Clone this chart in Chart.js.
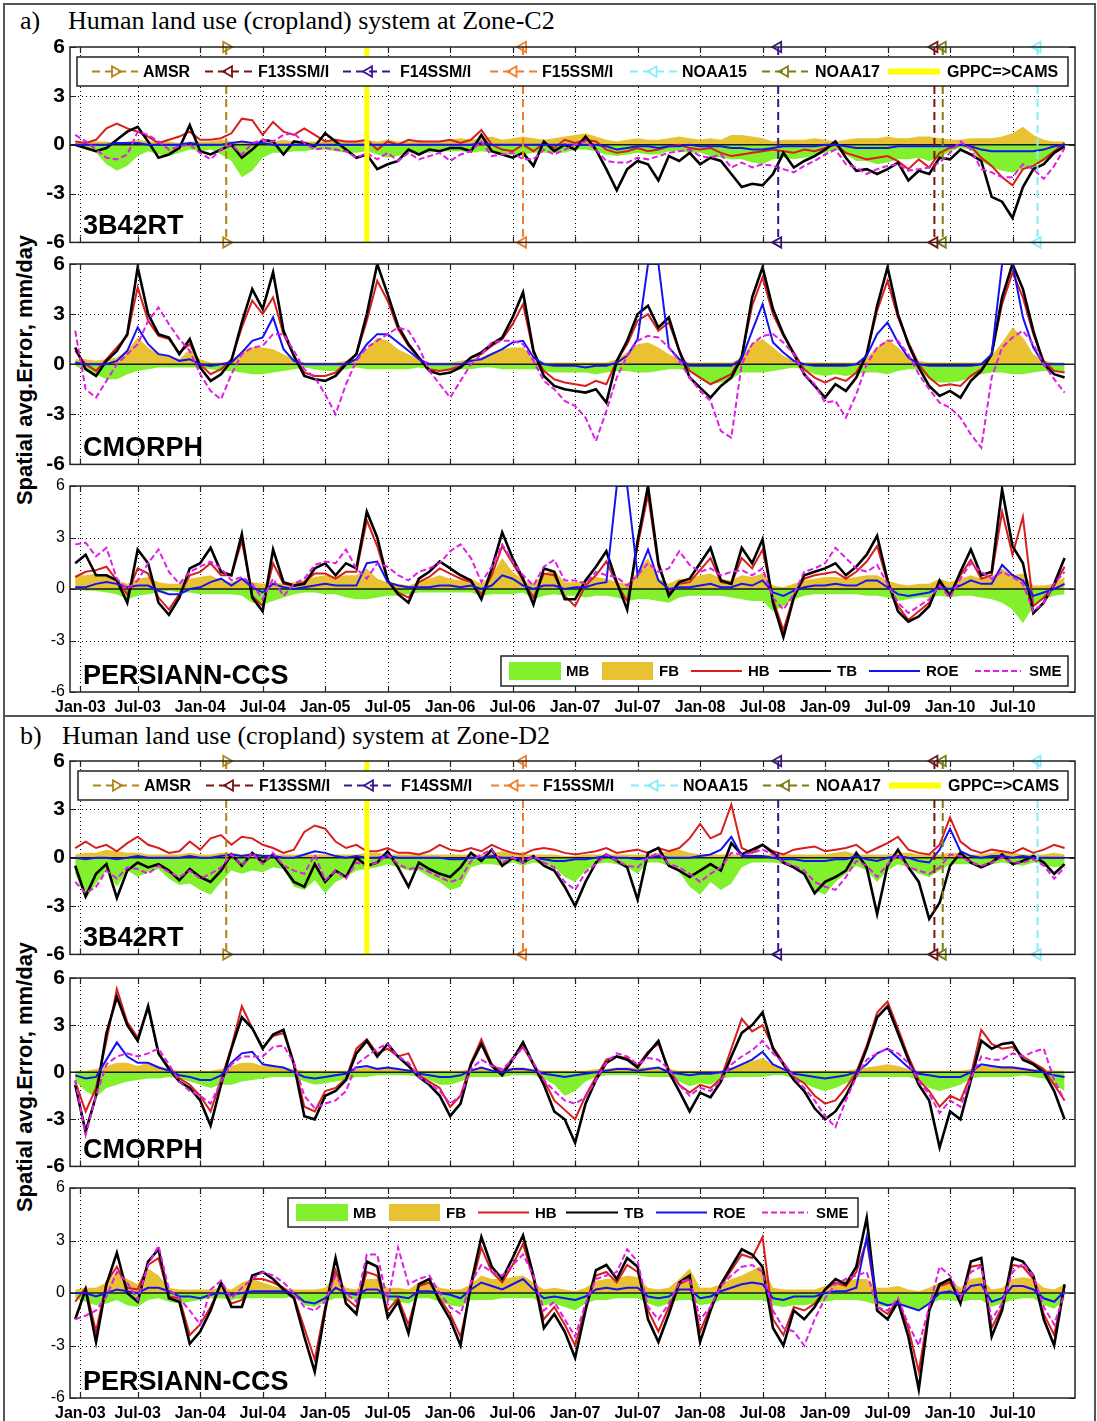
<!DOCTYPE html>
<html>
<head>
<meta charset="utf-8">
<script src="https://cdn.jsdelivr.net/npm/chart.js@4.4.1/dist/chart.umd.min.js"></script>
<style>
  body { margin: 0; background: #fff; width: 1097px; height: 1421px; position: relative; overflow: hidden; }
  canvas { position: absolute; left: 0; }
  .frame { position: absolute; border: 2px solid #555; box-sizing: border-box; }
  .title { position: absolute; font-family: "Liberation Serif", "Times New Roman", serif; font-size: 26px; line-height: 26px; white-space: nowrap; color: #000; }
  .ylab { position: absolute; font-family: "Liberation Sans", Arial, sans-serif; font-weight: bold; font-size: 22px; white-space: nowrap; transform: translate(-50%, -50%) rotate(-90deg); color: #000; }
</style>
</head>
<body>
<div class="frame" style="left:3px;top:3px;width:1093px;height:714px"></div>
<div class="frame" style="left:3px;top:715px;width:1093px;height:720px"></div>
<div class="title" style="left:20px;top:8px">a)</div>
<div class="title" style="left:68px;top:8px">Human land use (cropland) system at Zone-C2</div>
<div class="title" style="left:20px;top:723px">b)</div>
<div class="title" style="left:62px;top:723px">Human land use (cropland) system at Zone-D2</div>
<div class="ylab" style="left:25px;top:370px">Spatial avg.Error, mm/day</div>
<div class="ylab" style="left:25px;top:1077px">Spatial avg.Error, mm/day</div>

<script>
// months since Jan-2003, one value per month (index 0 = Jan-03)
const tickMonths = [0.5, 6, 12, 18, 24, 30, 36, 42, 48, 54, 60, 66, 72, 78, 84, 90];
const tickLabels = ["Jan-03","Jul-03","Jan-04","Jul-04","Jan-05","Jul-05","Jan-06","Jul-06",
                    "Jan-07","Jul-07","Jan-08","Jul-08","Jan-09","Jul-09","Jan-10","Jul-10"];
const yTicks = [-6, -3, 0, 3, 6];
const seriesNames = ["MB", "FB", "HB", "TB", "ROE", "SME"];

// sensor change events (month index)
const eventNames = ["AMSR", "F13SSM/I", "F14SSM/I", "F15SSM/I", "NOAA15", "NOAA17", "GPPC=>CAMS"];
const eventMonths = [14.5, 82.5, 67.5, 43.0, 92.4, 83.3, 28.0];

// ---- Zone-C2, 3B42RT ----
const c2RtMB = [-0.1,-0.3,-0.5,-1.2,-1.6,-1.3,-0.7,-0.4,-0.6,-0.7,-0.5,-0.3,
  -0.4,-0.3,-0.6,-1.0,-2.0,-1.6,-0.8,-0.5,-0.5,-0.4,-0.4,-0.3,
  -0.3,-0.4,-0.5,-0.5,-0.4,-0.6,-0.8,-0.7,-0.5,-0.5,-0.5,-0.4,
  -0.4,-0.4,-0.5,-0.4,-0.5,-0.6,-0.6,-0.6,-0.5,-0.5,-0.5,-0.5,
  -0.3,-0.3,-0.4,-0.6,-0.7,-0.6,-0.5,-0.6,-0.6,-0.4,-0.4,-0.5,
  -0.5,-0.7,-0.8,-0.9,-0.9,-1.1,-1.2,-0.9,-0.8,-0.9,-0.8,-0.7,
  -0.5,-0.3,-0.6,-1.0,-1.0,-1.2,-1.1,-0.9,-0.9,-0.8,-1.0,-0.8,
  -0.4,-0.2,-0.3,-1.0,-1.4,-1.6,-1.7,-1.5,-1.4,-1.0,-0.5,-0.2];
const c2RtFB = [0.1,0.2,0.2,0.2,0.1,0.2,0.3,0.2,0.2,0.2,0.1,0.2,
  0.2,0.2,0.3,0.2,0.1,0.2,0.2,0.2,0.3,0.2,0.2,0.2,
  0.2,0.3,0.2,0.2,0.3,0.2,0.3,0.2,0.2,0.3,0.2,0.2,
  0.3,0.4,0.3,0.4,0.5,0.3,0.4,0.5,0.4,0.3,0.4,0.5,
  0.6,0.7,0.5,0.3,0.2,0.3,0.4,0.3,0.3,0.4,0.5,0.4,
  0.3,0.4,0.3,0.6,0.6,0.5,0.4,0.2,0.3,0.3,0.3,0.4,
  0.3,0.2,0.3,0.4,0.4,0.4,0.5,0.4,0.4,0.5,0.5,0.4,
  0.3,0.3,0.4,0.4,0.4,0.5,0.7,1.1,0.6,0.3,0.2,0.2];
const c2RtHB = [0.2,0.1,0.3,1.0,1.3,1.0,0.8,0.5,0.1,0.3,0.5,0.8,
  0.3,0.3,0.4,0.7,1.6,1.5,0.6,1.4,0.8,0.6,1.0,0.6,
  0.2,0.3,0.2,0.2,0.3,-0.3,0.2,0.0,0.3,0.2,0.2,0.2,
  0.3,0.1,0.3,0.9,0.0,-0.3,-0.4,0.0,-0.4,0.1,-0.2,0.3,
  0.1,0.3,0.2,-0.3,-0.5,-0.4,-0.2,-0.4,-0.3,-0.1,0.0,-0.2,
  -0.3,-0.2,-0.5,-0.7,-0.6,-0.5,-0.4,-0.3,-0.4,-0.5,-0.3,-0.4,
  -0.2,0.0,-0.5,-0.7,-0.9,-0.8,-0.7,-1.0,-1.5,-0.9,-1.4,-0.5,
  -0.2,0.0,-0.1,-0.8,-1.3,-2.0,-2.5,-1.5,-1.3,-0.9,-0.4,0.1];
const c2RtTB = [0.0,-0.2,-0.4,-0.2,0.3,0.8,1.1,0.2,-0.8,-0.6,-0.2,1.2,
  -0.4,-0.6,-0.3,0.0,-0.8,-0.3,0.3,0.2,-0.6,0.2,0.1,-0.1,
  0.7,0.2,-0.3,-0.8,-0.6,-1.5,-1.2,-1.0,-0.3,-0.6,-0.3,-0.4,
  -0.2,-0.2,-0.4,0.6,-0.4,-0.6,-0.8,-0.5,-1.3,0.2,-0.4,0.0,
  -0.3,0.5,-0.3,-1.5,-2.8,-1.5,-1.0,-1.2,-2.2,-0.7,-1.0,-0.5,
  -1.2,-0.8,-1.0,-1.8,-2.6,-2.4,-2.5,-1.8,-0.5,-1.4,-1.0,-0.7,
  -0.3,0.2,-0.8,-1.6,-1.5,-1.8,-1.5,-1.1,-2.2,-1.6,-1.8,-0.8,
  -0.9,-0.3,-0.6,-1.0,-3.2,-3.5,-4.5,-2.6,-1.5,-1.2,-0.5,-0.1];
const c2RtROE = [0.0,0.0,0.0,0.0,0.1,0.1,0.1,0.0,0.0,0.0,0.0,0.1,
  0.0,0.0,0.0,0.1,0.2,0.1,0.1,0.0,0.0,0.0,0.0,0.0,
  0.0,0.0,0.0,0.0,0.0,0.0,0.0,0.0,0.0,0.0,0.0,0.0,
  0.0,0.0,0.0,0.1,0.0,0.0,0.0,0.0,0.0,0.0,0.0,0.0,
  0.0,0.0,0.0,-0.1,-0.3,-0.2,-0.1,-0.1,-0.2,-0.1,-0.1,0.0,
  -0.1,-0.1,-0.1,-0.2,-0.2,-0.3,-0.3,-0.2,-0.1,-0.1,-0.1,-0.1,
  0.0,0.0,-0.1,-0.2,-0.2,-0.2,-0.2,-0.1,-0.1,-0.1,-0.1,-0.1,
  -0.1,0.0,-0.1,-0.3,-0.4,-0.4,-0.4,-0.4,-0.4,-0.3,-0.1,0.0];
const c2RtSME = [0.6,0.2,-0.3,-0.8,-0.9,-0.6,0.8,0.6,0.2,-0.3,-0.1,0.0,
  -0.5,-0.9,-0.3,0.0,-0.6,0.1,0.3,0.2,0.6,0.7,0.1,-0.3,
  -0.2,-0.3,-0.4,-0.8,-0.5,-0.9,-0.5,-1.0,-0.5,-0.9,-0.7,-0.5,
  -1.0,-0.6,-0.4,0.2,-0.7,-0.6,-0.5,-0.9,-0.9,-0.3,-0.6,-0.3,
  0.0,0.2,-0.3,-1.0,-1.1,-1.1,-0.8,-0.9,-0.7,-0.5,-0.4,-0.3,
  -0.7,-0.8,-0.6,-1.4,-1.1,-1.4,-1.2,-1.3,-1.5,-1.7,-1.3,-1.0,
  -0.6,-0.3,-1.2,-1.4,-1.8,-1.5,-1.3,-1.2,-1.6,-1.5,-1.4,-1.1,
  -0.5,0.2,-0.3,-1.5,-1.7,-2.0,-2.0,-1.2,-1.5,-2.1,-1.3,-0.2];

// ---- Zone-C2, CMORPH ----
const c2CmMB = [-0.1,-0.4,-0.6,-0.9,-0.9,-0.6,-0.4,-0.3,-0.2,-0.2,-0.2,-0.2,
  -0.2,-0.3,-0.4,-0.4,-0.5,-0.6,-0.6,-0.5,-0.4,-0.3,-0.2,-0.3,
  -0.4,-0.4,-0.3,-0.2,-0.3,-0.3,-0.3,-0.3,-0.3,-0.2,-0.3,-0.4,
  -0.4,-0.3,-0.3,-0.2,-0.2,-0.3,-0.3,-0.3,-0.3,-0.4,-0.5,-0.5,
  -0.5,-0.5,-0.6,-0.5,-0.4,-0.4,-0.5,-0.5,-0.4,-0.3,-0.3,-0.4,
  -0.9,-1.2,-1.1,-0.9,-0.5,-0.5,-0.5,-0.4,-0.3,-0.2,-0.3,-0.6,
  -0.7,-0.6,-0.7,-0.6,-0.5,-0.5,-0.6,-0.4,-0.3,-0.3,-0.9,-1.1,
  -1.1,-1.0,-0.8,-0.6,-0.5,-0.5,-0.6,-0.6,-0.5,-0.4,-0.4,-0.5];
const c2CmFB = [0.3,0.3,0.2,0.3,0.4,0.8,1.6,1.0,0.6,0.5,0.3,0.9,
  0.3,0.1,0.1,0.2,0.8,1.0,1.0,0.9,0.6,0.3,0.1,0.1,
  0.1,0.1,0.2,0.3,0.9,1.6,1.4,0.9,0.6,0.3,0.1,0.1,
  0.1,0.2,0.3,0.4,0.7,0.9,1.0,1.0,0.3,0.1,0.1,0.1,
  0.1,0.1,0.1,0.1,0.3,0.7,1.2,1.3,1.0,0.6,0.3,0.1,
  0.1,0.1,0.1,0.1,0.4,1.3,1.5,1.0,0.5,0.2,0.1,0.1,
  0.1,0.1,0.1,0.1,0.4,1.0,1.5,1.0,0.4,0.2,0.1,0.1,
  0.1,0.1,0.1,0.1,0.5,1.3,2.2,1.6,0.6,0.2,0.1,0.1];
const c2CmHB = [0.8,0.0,-0.4,0.3,1.0,1.7,4.6,2.6,1.7,1.5,0.7,1.2,
  0.0,-0.6,-0.3,0.3,2.2,3.8,3.0,4.0,1.8,0.5,-0.5,-0.7,
  -0.7,-0.5,0.1,0.6,2.6,5.0,3.8,2.1,1.1,0.4,-0.3,-0.4,
  -0.3,-0.1,0.4,0.6,1.1,1.5,2.4,3.6,0.7,-0.4,-0.9,-1.1,
  -1.2,-1.3,-1.0,-1.2,0.2,1.2,2.6,3.0,2.0,2.5,0.8,-0.4,
  -0.8,-1.2,-0.9,-0.6,0.5,3.5,5.2,3.0,1.7,0.7,-0.3,-0.8,
  -1.1,-0.8,-1.0,-0.5,0.6,3.2,5.0,2.8,1.3,0.0,-0.8,-1.3,
  -1.2,-1.3,-0.7,-0.3,0.6,3.6,5.5,4.0,1.8,0.2,-0.4,-0.5];
const c2CmTB = [1.0,-0.3,-0.7,0.2,0.8,1.8,5.8,3.0,1.8,1.6,0.6,1.5,
  -0.2,-1.0,-0.6,0.2,2.5,4.5,3.3,5.5,2.0,0.5,-0.7,-0.9,
  -1.0,-0.7,0.0,0.6,3.0,6.0,4.2,2.3,1.2,0.4,-0.4,-0.6,
  -0.5,-0.2,0.4,0.7,1.2,1.6,2.8,4.3,0.8,-0.7,-1.3,-1.5,
  -1.6,-1.7,-1.5,-2.3,0.2,1.4,3.0,3.5,2.2,2.8,0.8,-0.8,
  -1.4,-2.0,-1.3,-0.8,0.4,4.0,5.8,3.3,1.8,0.6,-0.6,-1.3,
  -2.0,-1.2,-1.6,-0.8,0.6,3.5,5.8,3.0,1.2,-0.2,-1.3,-1.9,
  -1.6,-2.0,-1.0,-0.4,0.6,4.0,6.0,4.5,2.0,0.0,-0.6,-0.8];
const c2CmROE = [0.1,0.0,0.0,0.0,0.2,0.8,2.2,1.2,0.6,0.5,0.2,0.3,
  0.0,-0.1,0.0,0.1,0.7,1.4,1.6,2.8,0.9,0.2,0.0,0.0,
  0.0,0.0,0.0,0.3,1.2,1.8,1.8,1.3,0.8,0.3,0.0,0.0,
  0.0,0.0,0.2,0.3,0.6,0.9,1.3,1.4,0.4,0.0,-0.1,-0.1,
  -0.1,-0.2,-0.1,-0.1,0.1,0.5,1.5,6.0,6.0,1.0,0.3,-0.1,
  -0.1,-0.1,-0.1,-0.1,0.3,2.0,3.6,1.3,0.7,0.2,0.0,-0.1,
  -0.1,-0.1,-0.1,0.0,0.5,1.8,2.5,1.3,0.4,0.0,-0.1,-0.1,
  -0.1,-0.1,-0.1,0.0,0.6,6.0,6.0,2.8,1.0,0.0,0.0,0.0];
const c2CmSME = [2.0,-1.5,-2.0,-1.0,0.0,0.6,1.2,2.6,3.4,2.4,1.5,0.8,
  -0.6,-1.6,-2.1,-0.6,0.6,1.0,1.1,1.8,1.8,0.8,-0.3,-0.8,
  -1.8,-3.0,-1.2,0.2,1.0,1.4,1.8,2.2,2.0,1.0,-0.4,-1.2,
  -2.0,-1.0,0.0,0.6,1.3,1.4,1.4,1.2,0.2,-1.0,-1.5,-2.2,
  -2.5,-3.2,-4.6,-2.8,-0.8,0.5,1.4,1.7,1.6,1.0,0.2,-0.8,
  -1.6,-2.2,-4.0,-4.4,0.0,1.2,1.7,1.8,1.3,0.6,-0.6,-1.2,
  -2.3,-2.2,-3.2,-1.8,0.0,1.0,1.4,1.4,0.6,-0.6,-1.5,-2.3,
  -2.6,-3.2,-4.2,-5.0,-0.8,1.0,1.6,2.0,1.2,0.0,-0.9,-1.7];

// ---- Zone-C2, PERSIANN-CCS ----
const c2CcsMB = [0.0,-0.1,-0.1,-0.2,-0.3,-0.6,-0.4,-0.3,-0.2,-0.1,-0.2,-0.2,
  -0.3,-0.3,-0.3,-0.3,-0.4,-0.8,-0.9,-0.7,-0.5,-0.3,-0.2,-0.2,
  -0.3,-0.3,-0.5,-0.6,-0.6,-0.5,-0.4,-0.4,-0.3,-0.2,-0.2,-0.2,
  -0.2,-0.2,-0.2,-0.4,-0.3,-0.3,-0.3,-0.2,-0.6,-0.4,-0.3,-0.4,
  -0.4,-0.5,-0.4,-0.4,-0.5,-0.7,-0.6,-0.6,-0.7,-0.8,-0.5,-0.4,
  -0.4,-0.4,-0.4,-0.5,-0.6,-0.7,-0.7,-1.3,-1.0,-0.6,-0.4,-0.3,
  -0.3,-0.3,-0.3,-0.3,-0.4,-0.4,-0.5,-0.7,-0.6,-0.5,-0.5,-0.4,
  -0.5,-0.4,-0.4,-0.5,-0.6,-0.8,-1.2,-2.0,-1.0,-0.6,-0.4,-0.3];
const c2CcsFB = [0.8,0.8,0.9,0.8,0.5,0.3,0.6,0.7,0.4,0.3,0.3,0.6,
  0.7,0.8,0.5,0.4,0.6,0.4,0.3,0.4,0.3,0.4,0.5,0.7,
  0.8,0.7,0.8,0.8,1.2,0.6,0.4,0.3,0.2,0.4,0.6,0.8,
  0.6,0.5,0.6,0.3,0.8,1.8,1.0,0.5,0.3,0.9,1.1,0.4,
  0.4,0.5,0.7,0.6,0.4,0.3,1.0,1.8,0.6,0.3,0.6,0.6,
  0.8,0.9,0.6,0.5,0.8,0.7,0.9,0.2,0.1,0.3,0.5,0.6,
  0.7,0.7,0.6,0.7,0.8,0.8,0.5,0.3,0.2,0.3,0.3,0.6,
  0.4,0.6,0.8,0.6,0.7,1.2,0.8,0.9,0.2,0.2,0.3,0.7];
const c2CcsHB = [0.7,1.0,1.1,1.3,0.5,-0.3,1.2,0.9,-0.5,-1.2,-0.3,0.8,
  1.0,1.5,0.8,0.8,2.8,-0.4,-1.0,1.5,0.3,0.2,0.4,0.9,
  0.9,0.6,1.0,1.0,4.0,2.5,0.5,-0.2,-0.5,0.4,0.7,1.2,
  0.9,0.6,0.4,-0.3,0.8,2.5,1.5,0.5,-0.5,0.9,0.8,-0.4,
  -1.0,0.2,0.8,1.6,0.3,-0.7,2.5,5.5,1.3,-0.2,0.3,0.4,
  1.1,1.8,0.4,0.3,1.8,1.2,2.3,-0.6,-2.4,-0.4,0.6,0.8,
  0.9,1.0,0.6,1.0,1.6,2.5,0.4,-1.0,-1.8,-1.3,-0.8,0.3,
  -0.3,0.8,1.7,0.6,0.8,4.5,2.0,4.2,-1.0,-0.5,0.2,1.3];
const c2CcsTB = [1.5,2.0,0.8,0.8,0.5,-0.8,2.3,1.5,-0.8,-1.5,-0.5,1.2,
  1.5,2.4,1.0,0.8,3.2,-0.5,-1.3,2.3,0.4,0.2,0.3,1.2,
  1.5,0.8,1.5,1.2,4.5,3.0,0.5,-0.3,-0.8,0.6,1.0,1.6,
  1.2,0.8,0.5,-0.6,1.2,3.3,1.8,0.6,-0.9,1.2,1.0,-0.6,
  -0.6,0.5,1.3,2.2,0.4,-1.2,2.8,6.0,1.5,-0.4,0.4,0.6,
  1.5,2.4,0.5,0.3,2.4,1.5,2.9,-0.8,-2.8,-0.5,0.8,1.0,
  1.2,1.5,0.8,1.3,2.0,3.1,0.5,-1.3,-1.9,-1.6,-1.0,0.5,
  -0.4,1.0,2.3,0.8,1.0,5.8,2.5,1.5,-1.4,-0.8,0.3,1.8];
const c2CcsROE = [0.1,0.1,0.3,0.4,0.3,0.1,0.2,0.2,-0.1,-0.3,-0.3,0.0,
  0.1,0.4,0.6,0.2,0.6,0.1,-0.2,0.3,0.1,0.0,0.1,0.2,
  0.3,0.2,0.2,0.2,1.5,1.6,0.4,0.2,0.1,0.1,0.1,0.2,
  0.2,0.1,0.2,0.0,0.2,0.8,0.6,0.2,0.0,0.2,0.2,0.0,
  0.1,0.1,0.3,0.4,6.0,6.0,0.8,2.3,0.5,0.0,0.1,0.1,
  0.2,0.3,0.1,0.1,0.3,0.2,0.5,-0.2,-0.4,-0.1,0.1,0.2,
  0.2,0.3,0.2,0.2,0.5,0.5,0.1,-0.3,-0.4,-0.3,-0.2,0.1,
  0.0,0.2,0.5,0.3,0.3,1.4,0.8,0.5,-0.4,-0.2,0.0,0.3];
const c2CcsSME = [2.6,2.7,1.9,2.4,0.6,0.0,0.5,1.5,2.3,1.0,0.3,1.0,
  1.3,1.6,1.2,0.5,0.7,0.3,-0.6,0.6,-0.4,0.3,0.6,1.4,
  1.6,1.5,2.3,1.2,0.6,1.5,1.3,0.8,0.5,1.0,1.2,1.5,
  2.2,2.6,1.8,0.4,1.3,2.6,1.6,0.8,0.2,1.3,1.7,0.5,
  0.5,0.3,1.0,0.8,0.7,0.2,0.8,1.5,1.0,1.2,2.2,1.4,
  1.0,1.2,0.8,1.0,1.1,0.8,1.2,-0.5,-1.2,-0.3,1.0,1.2,
  1.5,2.4,1.8,1.2,1.0,1.4,0.3,-0.8,-1.4,-1.0,-0.6,0.2,
  -0.5,0.6,1.5,1.0,0.6,1.0,0.7,0.3,-1.3,-0.8,0.3,1.0];

// ---- Zone-D2, 3B42RT ----
const d2RtMB = [-1.0,-2.6,-1.6,-0.8,-1.8,-0.8,-1.2,-0.9,-0.7,-1.3,-1.7,-1.6,
  -2.0,-2.3,-1.5,-0.8,-1.0,-0.8,-0.9,-0.6,-0.7,-1.8,-2.0,-1.4,
  -2.2,-1.5,-1.2,-0.8,-0.7,-0.6,-0.4,-0.6,-0.8,-0.8,-1.2,-1.5,
  -2.0,-1.8,-0.6,-0.4,-0.4,-0.5,-0.3,-0.5,-0.3,-0.4,-0.6,-1.2,
  -1.5,-0.8,-0.4,-0.3,-0.4,-0.6,-1.0,-0.3,-0.3,-0.5,-0.9,-1.8,
  -2.3,-1.5,-2.0,-1.6,-0.6,-0.3,-0.3,-0.3,-0.4,-0.6,-1.0,-2.0,
  -2.3,-1.5,-1.0,-0.5,-0.8,-1.5,-0.8,-0.4,-0.6,-1.0,-1.2,-0.8,
  -0.4,-0.4,-0.4,-0.5,-0.4,-0.3,-0.4,-0.5,-0.3,-0.4,-0.6,-0.5];
const d2RtFB = [0.2,0.3,0.3,0.5,0.4,0.3,0.3,0.2,0.2,0.2,0.2,0.3,
  0.2,0.2,0.3,0.3,0.2,0.3,0.2,0.2,0.2,0.2,0.2,0.2,
  0.2,0.2,0.2,0.2,0.3,0.3,0.2,0.2,0.2,0.2,0.2,0.2,
  0.2,0.2,0.2,0.2,0.3,0.4,0.3,0.2,0.2,0.2,0.2,0.1,
  0.1,0.2,0.2,0.2,0.2,0.2,0.2,0.2,0.3,0.4,0.5,0.3,
  0.2,0.2,0.2,0.2,0.2,0.2,0.2,0.2,0.2,0.2,0.2,0.2,
  0.2,0.3,0.4,0.2,0.2,0.2,0.2,0.3,0.3,0.2,0.2,0.2,
  0.3,0.3,0.2,0.2,0.3,0.4,0.3,0.2,0.2,0.2,0.3,0.2];
const d2RtHB = [0.6,1.0,0.6,0.8,0.4,0.9,1.3,0.8,0.6,0.3,0.4,1.0,
  0.5,1.2,1.4,0.8,1.3,1.2,0.8,0.6,0.3,0.5,1.6,2.0,
  1.8,1.0,0.6,0.8,0.4,0.4,0.6,0.3,0.3,0.2,0.4,0.8,
  0.5,0.4,0.6,0.4,0.8,0.5,0.3,0.2,0.5,0.6,0.5,0.3,
  0.2,0.3,0.4,0.6,0.3,0.4,0.5,0.3,0.6,0.4,0.6,1.2,
  2.1,1.2,1.5,3.3,0.6,0.3,0.8,0.4,0.2,0.5,0.6,0.7,
  0.4,0.5,0.6,0.8,0.3,0.6,0.9,1.3,0.5,0.3,0.2,0.8,
  2.5,1.0,0.5,0.3,0.5,0.4,0.3,0.6,0.3,0.5,0.8,0.6];
const d2RtTB = [-0.5,-2.4,-1.0,-0.4,-2.5,-0.8,-0.3,-0.6,-0.4,-0.8,-1.4,-0.7,
  -1.2,-1.5,-0.8,0.2,-0.5,0.3,-0.3,0.2,-0.6,-1.5,-1.8,-0.4,
  -1.5,-0.8,-1.2,0.0,-0.5,-0.3,0.4,-0.6,-1.8,-0.3,-0.7,-1.0,
  -1.2,-0.6,0.3,-0.2,0.5,-0.5,0.0,-0.3,0.1,-0.5,-0.8,-1.8,
  -3.0,-1.5,-0.3,0.2,-0.2,-0.6,-2.6,0.3,0.6,-0.5,-0.8,-1.2,
  -0.8,-0.4,-0.8,0.9,0.2,0.5,0.8,0.3,-0.3,-0.6,-1.0,-2.2,
  -1.5,-1.2,-0.8,0.3,-0.6,-3.5,-0.5,0.5,-0.6,-1.5,-3.8,-2.8,
  -0.5,0.3,-0.3,-0.6,-0.3,0.2,-0.4,-0.2,0.1,-0.3,-1.0,-0.4];
const d2RtROE = [0.0,-0.1,0.0,0.0,-0.1,0.0,0.1,0.0,0.0,0.0,0.0,0.1,
  0.0,0.0,0.1,0.2,0.1,0.2,0.1,0.1,0.0,0.0,0.2,0.4,
  0.3,0.1,0.0,0.1,0.0,0.0,0.1,0.0,0.0,0.0,0.0,0.0,
  -0.1,-0.1,0.0,0.0,0.1,0.0,0.0,-0.1,0.0,-0.1,-0.2,-0.2,
  -0.1,-0.1,0.0,0.1,0.0,0.0,-0.1,0.0,0.1,0.0,0.0,0.0,
  0.1,0.2,0.5,1.3,0.1,0.1,0.1,0.0,-0.1,-0.1,-0.2,-0.2,
  -0.2,-0.1,-0.1,0.1,-0.1,-0.2,0.0,0.1,0.0,-0.2,-0.3,0.5,
  1.8,0.4,0.1,0.0,0.1,0.1,0.0,0.1,0.0,0.0,0.0,0.0];
const d2RtSME = [-1.5,-2.2,-1.8,-0.8,-1.3,-0.6,-0.7,-1.0,-0.5,-0.9,-1.2,-0.8,
  -1.3,-1.0,-0.6,0.2,-0.5,0.3,-0.4,0.3,-0.5,-0.8,-1.0,0.2,
  -1.4,-0.8,-1.3,-0.3,-0.5,-0.3,0.2,-0.4,-0.7,-0.6,-0.9,-1.2,
  -1.5,-1.3,-0.2,0.2,0.5,-0.3,0.0,-0.3,0.1,-0.3,-0.6,-1.5,
  -2.0,-0.9,-0.4,0.2,-0.2,-0.5,-0.6,0.0,0.3,-0.4,-0.6,-1.0,
  -1.5,-1.0,-0.6,0.3,0.2,0.3,0.5,0.2,-0.3,-0.5,-0.8,-1.5,
  -1.8,-2.0,-1.2,-0.2,-0.5,-1.2,-0.4,0.2,-0.6,-0.8,-1.0,-0.6,
  0.2,0.1,-0.3,-0.5,-0.3,0.0,-0.3,-0.3,-0.1,-0.5,-1.3,-0.6];

// ---- Zone-D2, CMORPH ----
const d2CmMB = [-0.6,-1.2,-1.6,-1.0,-0.8,-0.6,-0.5,-0.4,-0.4,-0.3,-0.4,-0.6,
  -0.8,-1.0,-0.8,-0.8,-0.6,-0.5,-0.4,-0.3,-0.3,-0.3,-0.6,-0.8,
  -0.7,-0.6,-0.5,-0.3,-0.3,-0.2,-0.2,-0.2,-0.2,-0.3,-0.5,-0.8,
  -0.8,-0.6,-0.3,-0.3,-0.3,-0.3,-0.2,-0.2,-0.2,-0.4,-0.8,-1.5,
  -1.2,-0.6,-0.3,-0.2,-0.2,-0.2,-0.2,-0.3,-0.3,-0.3,-0.6,-0.9,
  -0.7,-0.8,-0.4,-0.3,-0.3,-0.3,-0.3,-0.2,-0.2,-0.4,-0.7,-1.0,
  -1.2,-1.0,-0.7,-0.3,-0.3,-0.3,-0.3,-0.3,-0.3,-0.5,-1.0,-1.2,
  -1.0,-0.8,-0.4,-0.3,-0.3,-0.3,-0.3,-0.2,-0.3,-0.4,-0.8,-1.2];
const d2CmFB = [0.1,0.1,0.2,0.4,0.6,0.6,0.4,0.6,0.4,0.2,0.1,0.1,
  0.1,0.1,0.2,0.4,0.6,0.6,0.4,0.4,0.3,0.2,0.1,0.1,
  0.1,0.1,0.1,0.2,0.3,0.3,0.3,0.2,0.2,0.1,0.1,0.1,
  0.1,0.1,0.2,0.3,0.2,0.1,0.3,0.3,0.2,0.1,0.1,0.1,
  0.1,0.1,0.2,0.2,0.3,0.3,0.3,0.3,0.3,0.2,0.1,0.1,
  0.1,0.1,0.1,0.3,0.5,0.7,0.9,0.5,0.2,0.1,0.1,0.1,
  0.1,0.1,0.1,0.2,0.3,0.4,0.5,0.4,0.2,0.1,0.1,0.1,
  0.1,0.1,0.2,0.4,0.4,0.4,0.4,0.3,0.2,0.2,0.1,0.1];
const d2CmHB = [-0.6,-2.5,-1.0,2.0,5.3,3.2,2.2,4.1,1.2,0.3,-0.4,-0.8,
  -1.5,-2.5,-0.5,1.6,4.2,2.8,1.6,2.3,2.5,0.6,-2.2,-2.5,
  -1.2,-1.0,-0.4,1.5,2.1,1.2,1.5,1.0,1.2,-0.2,-0.6,-1.0,
  -2.2,-1.5,0.6,2.1,0.5,0.0,0.9,1.6,0.5,-0.5,-1.8,-2.4,
  -3.0,-1.5,-0.3,0.8,1.0,0.9,0.4,1.3,1.8,0.2,-0.8,-1.3,
  -0.8,-1.0,-0.4,1.5,3.4,2.6,3.0,1.6,0.6,-0.3,-0.7,-1.5,
  -2.0,-1.8,-1.0,0.0,1.7,3.8,4.5,2.8,1.0,-0.5,-1.2,-2.2,
  -1.5,-1.8,-0.2,2.7,1.8,1.5,1.6,1.0,0.6,0.2,-0.8,-1.8];
const d2CmTB = [-0.8,-3.8,-1.5,2.5,4.8,3.0,2.0,4.2,1.2,0.2,-0.6,-1.0,
  -1.8,-3.4,-0.8,1.5,3.5,2.8,1.5,2.4,2.7,0.5,-2.8,-3.0,
  -1.5,-1.2,-0.5,1.2,2.0,1.0,1.8,1.0,0.4,-0.3,-0.8,-1.5,
  -2.8,-2.0,0.5,1.8,0.4,-0.2,0.8,1.9,0.5,-0.8,-2.5,-3.0,
  -4.5,-2.0,-0.5,0.6,1.0,0.8,0.3,1.2,2.0,0.0,-1.2,-2.5,
  -1.3,-1.6,-0.6,1.0,2.5,3.0,3.8,1.5,0.5,-0.5,-1.2,-2.3,
  -3.0,-2.5,-1.5,-0.2,1.5,3.5,4.2,2.5,0.8,-0.8,-1.8,-4.8,
  -2.5,-3.0,-0.5,2.0,1.5,1.8,1.9,0.8,0.5,0.0,-1.2,-3.0];
const d2CmROE = [-0.2,-0.4,-0.3,0.8,1.9,1.0,0.6,0.6,0.3,0.1,-0.2,-0.3,
  -0.5,-0.5,-0.2,0.6,1.2,1.3,0.5,0.4,0.3,0.0,-0.3,-0.4,
  -0.3,-0.2,-0.1,0.3,0.4,0.2,0.3,0.2,0.1,-0.1,-0.2,-0.3,
  -0.3,-0.2,0.1,0.3,0.1,0.0,0.2,0.2,0.1,-0.1,-0.2,-0.3,
  -0.2,-0.1,0.0,0.1,0.2,0.2,0.1,0.2,0.3,0.0,-0.1,-0.2,
  -0.1,-0.1,0.0,0.2,0.5,0.8,1.3,0.5,0.2,-0.1,-0.2,-0.3,
  -0.4,-0.3,-0.2,0.0,0.5,1.2,1.5,0.9,0.3,-0.1,-0.2,-0.3,
  -0.3,-0.3,0.0,0.5,0.4,0.3,0.3,0.2,0.1,0.0,-0.2,-0.3];
const d2CmSME = [-0.5,-4.0,-1.5,0.5,1.0,1.2,1.0,1.2,1.5,0.5,-0.6,-1.2,
  -1.5,-2.0,-0.6,0.5,1.0,1.0,1.0,1.6,1.7,0.6,-1.5,-2.3,
  -2.0,-1.8,-1.2,0.5,1.0,1.5,1.8,1.0,0.6,-0.3,-0.7,-1.2,
  -2.0,-1.5,0.2,0.8,0.4,0.2,0.8,1.6,0.6,-0.5,-1.2,-1.8,
  -2.0,-1.6,-0.5,0.6,1.2,1.0,0.5,0.9,0.8,0.2,-0.8,-1.5,
  -1.0,-1.2,-0.5,0.5,1.0,1.4,2.0,1.2,0.6,-0.3,-1.0,-1.8,
  -2.8,-3.5,-1.8,-0.3,0.8,1.2,1.5,1.2,0.6,-0.6,-1.4,-2.6,
  -1.8,-2.2,-0.4,1.0,0.8,0.8,1.2,1.0,1.3,1.5,-0.5,-1.8];

// ---- Zone-D2, PERSIANN-CCS ----
const d2CcsMB = [-0.3,-0.5,-0.7,-0.6,-0.4,-0.7,-0.8,-0.4,-0.3,-0.5,-0.6,-0.5,
  -0.4,-0.3,-0.3,-0.4,-0.3,-0.3,-0.3,-0.3,-0.3,-0.2,-0.7,-0.8,
  -0.5,-0.3,-0.3,-0.4,-0.3,-0.3,-0.4,-0.5,-0.6,-0.3,-0.3,-0.5,
  -0.7,-0.8,-0.4,-0.4,-0.4,-0.3,-0.3,-0.3,-0.3,-0.7,-0.6,-0.8,
  -1.0,-0.6,-0.4,-0.4,-0.3,-0.3,-0.3,-0.6,-0.8,-0.6,-0.4,-0.4,
  -0.7,-0.6,-0.4,-0.4,-0.4,-0.4,-0.4,-0.7,-0.8,-0.7,-0.7,-0.6,
  -0.5,-0.4,-0.4,-0.4,-0.5,-0.7,-0.8,-0.6,-0.8,-1.0,-0.6,-0.4,
  -0.4,-0.5,-0.4,-0.4,-0.8,-0.6,-0.4,-0.3,-0.3,-0.7,-0.9,-0.4];
const d2CcsFB = [0.2,0.3,0.3,0.6,1.2,0.8,0.5,1.4,1.0,0.3,0.2,0.2,
  0.2,0.2,0.3,0.2,0.6,0.8,0.6,0.4,0.3,0.2,0.2,0.2,
  0.3,1.0,0.3,0.2,0.8,0.8,0.3,0.3,0.2,0.6,0.6,0.3,
  0.2,0.2,0.5,1.0,0.8,0.8,0.9,1.0,0.6,0.2,0.3,0.2,
  0.1,0.3,0.7,0.8,0.8,1.0,0.9,0.3,0.2,0.3,0.8,1.4,
  0.3,0.3,0.5,0.8,1.0,1.3,1.6,0.3,0.2,0.2,0.2,0.2,
  0.4,0.6,0.7,0.8,0.8,0.3,0.3,0.4,0.2,0.1,0.3,0.6,
  0.7,0.3,0.8,0.9,0.2,0.3,0.8,0.9,0.8,0.3,0.2,0.5];
const d2CcsHB = [-0.5,0.3,-2.2,0.6,1.5,0.3,0.2,1.6,2.0,-0.2,-0.3,-2.4,
  -1.8,-0.8,0.5,-0.6,-0.4,0.8,0.8,0.6,0.3,-0.2,-2.0,-3.8,
  -0.8,1.3,-0.3,-0.8,1.2,1.0,-1.0,-0.3,-1.8,0.4,0.6,-0.3,
  -1.2,-2.5,0.3,2.6,1.2,0.6,1.6,2.8,0.8,-1.5,-0.8,-1.8,
  -3.0,-0.8,1.0,1.2,0.6,1.6,1.2,-1.0,-2.2,-0.8,0.5,0.8,
  -2.2,-0.8,0.4,1.3,2.2,2.0,3.2,-1.5,-2.4,-0.8,-1.0,-0.6,
  0.2,0.6,0.4,1.2,3.0,-0.8,-1.2,-0.4,-2.0,-4.5,-0.8,0.4,
  0.6,-0.4,1.5,1.6,-2.0,-0.8,1.6,1.5,0.8,-1.2,-2.4,0.4];
const d2CcsTB = [-1.5,0.2,-2.8,0.5,2.3,0.0,-0.5,1.8,2.5,-0.3,-0.5,-2.9,
  -2.2,-1.0,0.6,-0.8,-0.8,1.0,1.2,0.8,0.2,-0.3,-2.5,-4.5,
  -1.0,2.0,-0.6,-1.2,1.8,1.5,-1.4,-0.5,-2.3,0.5,0.8,-0.5,
  -1.5,-3.0,0.5,3.2,1.5,0.8,2.0,3.3,1.0,-2.0,-1.2,-2.2,
  -3.7,-1.0,1.3,1.6,0.8,2.0,1.5,-1.5,-2.8,-1.2,0.6,1.0,
  -2.8,-1.0,0.5,1.5,2.5,2.2,1.5,-2.0,-3.0,-1.0,-1.5,-0.8,
  0.2,0.8,0.5,1.5,4.3,-1.0,-1.5,-0.5,-2.5,-5.5,-1.0,0.5,
  0.8,-0.6,1.8,2.0,-2.5,-1.0,2.0,1.8,1.0,-1.5,-3.0,0.5];
const d2CcsROE = [0.0,0.0,-0.2,0.0,0.2,0.1,0.0,0.3,0.3,0.1,-0.2,-0.2,
  -0.3,-0.1,0.0,-0.1,0.0,0.1,0.1,0.1,0.1,0.0,-0.5,-0.6,
  -0.3,0.3,0.0,-0.1,0.2,0.2,-0.2,-0.2,-0.3,0.1,0.1,0.0,
  -0.1,-0.3,0.2,0.6,0.4,0.2,0.5,0.8,0.2,-0.3,-0.2,-0.3,
  -0.4,-0.2,0.2,0.3,0.2,0.3,0.3,-0.2,-0.3,-0.2,0.2,0.2,
  -0.3,-0.2,0.1,0.3,0.5,0.6,0.5,-0.3,-0.4,-0.2,-0.2,-0.2,
  0.0,0.1,0.1,0.3,3.2,-0.5,-0.7,-0.6,-0.8,-1.0,-0.6,0.0,
  0.1,-0.2,0.4,0.5,-0.5,-0.3,0.4,0.4,0.2,-0.3,-0.5,0.1];
const d2CcsSME = [-1.5,-1.3,-1.0,-0.2,1.2,0.6,-0.4,1.6,2.7,0.2,-0.3,-1.0,
  -1.8,0.2,0.7,-0.3,0.3,0.8,1.2,1.0,0.6,0.0,-0.8,-1.0,
  -0.5,1.0,0.0,-0.5,2.2,2.2,-0.5,2.6,0.5,0.8,1.0,0.0,
  -0.8,-1.2,0.6,1.6,1.2,1.0,1.6,2.2,1.0,-1.0,-0.5,-1.5,
  -2.5,-0.6,0.8,1.0,1.2,2.5,1.8,-0.8,-1.5,-0.6,0.6,0.8,
  -1.5,-0.8,0.4,1.0,1.5,1.6,1.2,-1.0,-2.0,-2.2,-3.0,-1.5,
  -0.3,0.5,0.8,1.0,1.2,-0.8,-1.0,-0.3,-1.8,-3.0,-0.8,1.5,
  1.0,-0.3,1.2,1.5,-1.5,-0.6,1.2,1.7,1.0,-0.8,-1.8,0.0];

// ---------------- styles ----------------
const FONT = "'Liberation Sans', Arial, Helvetica, sans-serif";
const seriesStyle = {
  MB:  { fill: "origin", backgroundColor: "#82f02c", borderWidth: 0, order: 6 },
  FB:  { fill: "origin", backgroundColor: "#e8c233", borderWidth: 0, order: 5 },
  HB:  { borderColor: "#d81e1e", borderWidth: 2, order: 4 },
  TB:  { borderColor: "#000000", borderWidth: 2.6, order: 3 },
  ROE: { borderColor: "#1414f0", borderWidth: 2, order: 2 },
  SME: { borderColor: "#e01ee6", borderWidth: 2, borderDash: [6, 3], order: 1 }
};
const eventStyle = {
  "AMSR":       { color: "#b08418", rot: 90 },
  "F13SSM/I":   { color: "#7a1414", rot: -90 },
  "F14SSM/I":   { color: "#3c148c", rot: -90 },
  "F15SSM/I":   { color: "#f07d28", rot: -90 },
  "NOAA15":     { color: "#82eefa", rot: -90 },
  "NOAA17":     { color: "#7d7d14", rot: -90 },
  "GPPC=>CAMS": { color: "#ffff00", solid: true }
};
// legend layout: [symbol start, symbol end, text x] relative to box left
const eventLegendLayout = [[15,61,66],[128,176,181],[266,318,323],[413,460,465],[553,600,605],[685,731,738],[811,863,870]];
const seriesLegendLayout = [[8,60,65],[101,152,158],[190,241,247],[278,330,336],[368,419,425],[474,520,528]];

const panels = [
  { top: 47,   bottom: 246,  name: "3B42RT",       big: true,  xLabels: false, events: true,
    legend: "events", box: [77, 57, 991, 29],
    data: [c2RtMB, c2RtFB, c2RtHB, c2RtTB, c2RtROE, c2RtSME] },
  { top: 264,  bottom: 468,  name: "CMORPH",       big: true,  xLabels: false,
    data: [c2CmMB, c2CmFB, c2CmHB, c2CmTB, c2CmROE, c2CmSME] },
  { top: 486,  bottom: 692,  name: "PERSIANN-CCS", big: false, xLabels: true,
    legend: "series", box: [501, 656, 567, 30],
    data: [c2CcsMB, c2CcsFB, c2CcsHB, c2CcsTB, c2CcsROE, c2CcsSME] },
  { top: 761,  bottom: 958,  name: "3B42RT",       big: true,  xLabels: false, events: true,
    legend: "events", box: [78, 771, 990, 29],
    data: [d2RtMB, d2RtFB, d2RtHB, d2RtTB, d2RtROE, d2RtSME] },
  { top: 978,  bottom: 1170, name: "CMORPH",       big: true,  xLabels: false,
    data: [d2CmMB, d2CmFB, d2CmHB, d2CmTB, d2CmROE, d2CmSME] },
  { top: 1188, bottom: 1398, name: "PERSIANN-CCS", big: false, xLabels: true,
    legend: "series", box: [288, 1198, 570, 29],
    data: [d2CcsMB, d2CcsFB, d2CcsHB, d2CcsTB, d2CcsROE, d2CcsSME] }
];

function triangle(ctx, x, y, r, rot) {
  // rot 90 -> pointing right, -90 -> pointing left
  const dir = rot > 0 ? 1 : -1;
  ctx.beginPath();
  ctx.moveTo(x + dir * r, y);
  ctx.lineTo(x - dir * r * 0.5, y - r * 0.87);
  ctx.lineTo(x - dir * r * 0.5, y + r * 0.87);
  ctx.closePath();
  ctx.stroke();
}

function drawEventLegend(ctx, box) {
  const [bx, by, bw, bh] = box;
  const cy = by + bh / 2;
  ctx.fillStyle = "#fff";
  ctx.fillRect(bx, by, bw, bh);
  ctx.strokeStyle = "#222";
  ctx.lineWidth = 1.5;
  ctx.strokeRect(bx, by, bw, bh);
  ctx.font = "bold 16px " + FONT;
  ctx.textBaseline = "middle";
  ctx.textAlign = "left";
  eventNames.forEach((name, i) => {
    const st = eventStyle[name];
    const [s0, s1, tx] = eventLegendLayout[i];
    ctx.strokeStyle = st.color;
    if (st.solid) {
      ctx.setLineDash([]);
      ctx.lineWidth = 6;
      ctx.beginPath(); ctx.moveTo(bx + s0, cy); ctx.lineTo(bx + s1, cy); ctx.stroke();
    } else {
      ctx.lineWidth = 2;
      ctx.setLineDash([8, 5]);
      ctx.beginPath(); ctx.moveTo(bx + s0, cy); ctx.lineTo(bx + s1, cy); ctx.stroke();
      ctx.setLineDash([]);
      ctx.lineWidth = 1.8;
      triangle(ctx, bx + (s0 + s1) / 2, cy, 6, st.rot);
    }
    ctx.fillStyle = "#000";
    ctx.fillText(name, bx + tx, cy + 1);
  });
  ctx.setLineDash([]);
}

function drawSeriesLegend(ctx, box) {
  const [bx, by, bw, bh] = box;
  const cy = by + bh / 2;
  ctx.fillStyle = "#fff";
  ctx.fillRect(bx, by, bw, bh);
  ctx.strokeStyle = "#222";
  ctx.lineWidth = 1.5;
  ctx.strokeRect(bx, by, bw, bh);
  ctx.font = "bold 15px " + FONT;
  ctx.textBaseline = "middle";
  ctx.textAlign = "left";
  seriesNames.forEach((name, i) => {
    const st = seriesStyle[name];
    const [s0, s1, tx] = seriesLegendLayout[i];
    if (st.fill) {
      ctx.fillStyle = st.backgroundColor;
      ctx.fillRect(bx + s0, by + 6, s1 - s0, bh - 12);
    } else {
      ctx.strokeStyle = st.borderColor;
      ctx.lineWidth = 2;
      ctx.setLineDash(st.borderDash || []);
      ctx.beginPath(); ctx.moveTo(bx + s0, cy); ctx.lineTo(bx + s1, cy); ctx.stroke();
      ctx.setLineDash([]);
    }
    ctx.fillStyle = "#000";
    ctx.fillText(name, bx + tx, cy + 1);
  });
}

function makePlugin(p) {
  return {
    id: "panelDecor",
    beforeDatasetsDraw(chart) {
      const { ctx, chartArea: a, scales: { x, y } } = chart;
      ctx.save();
      ctx.strokeStyle = "#000";
      ctx.lineWidth = 1;
      ctx.setLineDash([1, 3]);
      tickMonths.forEach(m => {
        const px = Math.round(x.getPixelForValue(m)) + 0.5;
        ctx.beginPath(); ctx.moveTo(px, a.top); ctx.lineTo(px, a.bottom); ctx.stroke();
      });
      [-3, 3].forEach(v => {
        const py = Math.round(y.getPixelForValue(v)) + 0.5;
        ctx.beginPath(); ctx.moveTo(a.left, py); ctx.lineTo(a.right, py); ctx.stroke();
      });
      ctx.restore();
    },
    afterDatasetDraw(chart, args) {
      if (chart.data.datasets[args.index].label !== "FB") return;
      const { ctx, chartArea: a, scales: { y } } = chart;
      const py = y.getPixelForValue(0);
      ctx.save();
      ctx.strokeStyle = "#1a1a1a";
      ctx.lineWidth = 1.5;
      ctx.beginPath(); ctx.moveTo(a.left, py); ctx.lineTo(a.right, py); ctx.stroke();
      ctx.restore();
    },
    afterDatasetsDraw(chart) {
      const { ctx, chartArea: a, scales: { x, y } } = chart;
      ctx.save();
      ctx.strokeStyle = "#222";
      ctx.lineWidth = 1.5;
      ctx.strokeRect(a.left, a.top, a.right - a.left, a.bottom - a.top);
      ctx.lineWidth = 1.2;
      tickMonths.forEach(m => {
        const px = Math.round(x.getPixelForValue(m)) + 0.5;
        ctx.beginPath();
        ctx.moveTo(px, a.top); ctx.lineTo(px, a.top + 6);
        ctx.moveTo(px, a.bottom); ctx.lineTo(px, a.bottom - 6);
        ctx.stroke();
      });
      yTicks.forEach(v => {
        const py = Math.round(y.getPixelForValue(v)) + 0.5;
        ctx.beginPath();
        ctx.moveTo(a.left, py); ctx.lineTo(a.left + 6, py);
        ctx.moveTo(a.right, py); ctx.lineTo(a.right - 6, py);
        ctx.stroke();
      });
      // panel name
      ctx.fillStyle = "#000";
      ctx.font = "bold 27px " + FONT;
      ctx.textAlign = "left";
      ctx.textBaseline = "alphabetic";
      ctx.fillText(p.name, 83, a.bottom - 8);
      // legends are positioned in page coordinates
      const off = p.top - a.top;
      if (p.legend) {
        const box = [p.box[0], p.box[1] - off, p.box[2], p.box[3]];
        if (p.legend === "events") drawEventLegend(ctx, box);
        else drawSeriesLegend(ctx, box);
      }
      ctx.restore();
    }
  };
}

const PAD_TOP = 22;
panels.forEach(p => {
  const plotH = p.bottom - p.top;
  const bottomSpace = p.xLabels ? 30 : 14;
  const cv = document.createElement("canvas");
  cv.width = 1097;
  cv.height = plotH + PAD_TOP + bottomSpace;
  cv.style.top = (p.top - PAD_TOP) + "px";
  cv.style.width = "1097px";
  cv.style.height = cv.height + "px";
  document.body.appendChild(cv);

  const datasets = seriesNames.map((name, i) => Object.assign({
    label: name,
    data: p.data[i].map((v, k) => ({ x: k, y: v })),
    pointRadius: 0,
    tension: 0
  }, seriesStyle[name]));

  if (p.events) {
    eventNames.forEach((name, i) => {
      const st = eventStyle[name];
      datasets.push({
        label: name,
        data: [{ x: eventMonths[i], y: 6 }, { x: eventMonths[i], y: -6 }],
        borderColor: st.color,
        borderWidth: st.solid ? 5 : 2,
        borderDash: st.solid ? [] : [8, 5],
        pointRadius: st.solid ? 0 : 6,
        pointStyle: "triangle",
        pointRotation: st.rot || 0,
        pointBorderColor: st.color,
        pointBackgroundColor: "rgba(255,255,255,0)",
        pointBorderWidth: 1.8,
        clip: false,
        order: 0
      });
    });
  }

  new Chart(cv.getContext("2d"), {
    type: "line",
    data: { datasets },
    options: {
      responsive: false,
      animation: false,
      events: [],
      layout: { padding: { top: PAD_TOP, right: 22, left: 0, bottom: p.xLabels ? 0 : 14 } },
      plugins: { legend: { display: false }, tooltip: { enabled: false } },
      scales: {
        x: {
          type: "linear", min: -0.5, max: 96,
          grid: { display: false, drawTicks: false, tickLength: 0 }, border: { display: false },
          afterBuildTicks: s => { s.ticks = tickMonths.map(v => ({ value: v })); },
          afterFit: s => { s.height = p.xLabels ? 30 : 0; },
          ticks: {
            display: p.xLabels, autoSkip: false, maxRotation: 0, padding: 6,
            color: "#000", font: { family: FONT, size: 16, weight: "bold" },
            callback: (v, i) => tickLabels[i]
          }
        },
        y: {
          min: -6, max: 6,
          grid: { display: false, drawTicks: false, tickLength: 0 }, border: { display: false },
          afterBuildTicks: s => { s.ticks = yTicks.map(v => ({ value: v })); },
          afterFit: s => { s.width = 70; },
          ticks: {
            color: "#000", padding: 5,
            font: p.big ? { family: FONT, size: 21, weight: "bold" } : { family: FONT, size: 16 },
            callback: v => String(v)
          }
        }
      }
    },
    plugins: [makePlugin(p)]
  });
});
</script>
</body>
</html>
